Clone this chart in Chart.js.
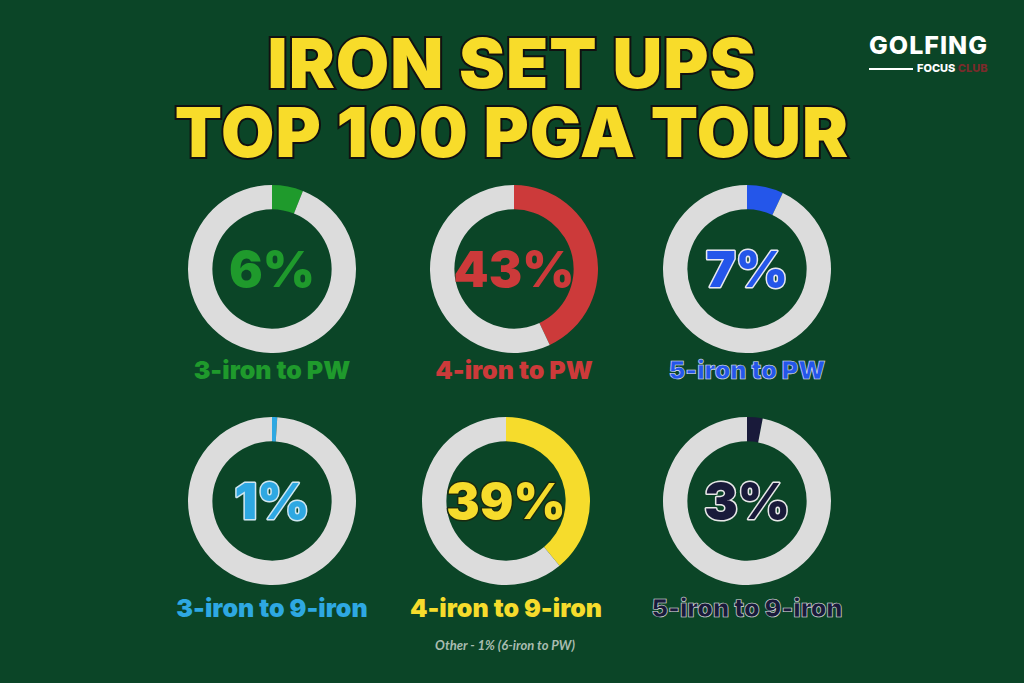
<!DOCTYPE html>
<html>
<head>
<meta charset="utf-8">
<script src="https://cdn.jsdelivr.net/npm/chart.js@4"></script>
<style>
  html, body { margin: 0; padding: 0; }
  body { width: 1024px; height: 683px; background: #0b4527; position: relative; overflow: hidden; font-family: Inter, Roboto, 'DejaVu Sans', sans-serif; }
  .title { position: absolute; left: 0; width: 1024px; text-align: center; color: #f8dc2a; font-weight: 900; font-size: 69px; line-height: 1; -webkit-text-stroke: 4px #111; paint-order: stroke fill; letter-spacing: 1px; }
  .cell { position: absolute; width: 168px; height: 168px; }
  .label { position: absolute; width: 300px; text-align: center; font-weight: 900; font-size: 25px; line-height: 1; }
  .note { position: absolute; left: 405px; width: 200px; top: 637px; text-align: center; font-family: Lato, 'Open Sans', sans-serif; font-style: italic; font-weight: 700; font-size: 13px; color: #a9bcb0; }
  .logo { position: absolute; left: 869px; top: 30px; color: #fff; font-weight: 800; }
</style>
</head>
<body>
<div class="title" style="top:29px">IRON SET UPS</div>
<div class="title" style="top:98px">TOP 100 PGA TOUR</div>
<div class="logo">
  <div style="font-size:25px;letter-spacing:1px">GOLFING</div>
  <div style="font-size:11px;margin-top:1px;"><span style="display:inline-block;width:44px;border-top:2px solid #fff;vertical-align:middle;margin-right:4px"></span>FOCUS <span style="color:#7a2b2b">CLUB</span></div>
</div>
<div id="charts"></div>
<div class="note">Other - 1% (6-iron to PW)</div>

<script>
// setups and their share of the top 100 (%)
const categories = ['3-iron to PW', '4-iron to PW', '5-iron to PW', '3-iron to 9-iron', '4-iron to 9-iron', '5-iron to 9-iron'];
const shares = [6, 43, 7, 1, 39, 3];
const colours = ['#1f9a2c', '#cc3a3a', '#2456ea', '#2ea8e2', '#f6dc2c', '#191a3a'];
const outlines = [null, null, '#e8e8f0', '#cfe6f0', '#1a2a10', '#e8e8e8'];

const centres = [[272, 269], [514, 269], [747, 269], [272, 501], [506, 501], [747, 501]];
const labelY = [358, 358, 358, 596, 596, 596];

const centreText = {
  id: 'centreText',
  afterDraw(chart) {
    const c = chart.ctx;
    const a = chart.getDatasetMeta(0).data[0];
    const i = chart.options.plugins.centreText.idx;
    const txt = shares[i] + '%';
    c.save();
    c.font = '900 50px Inter, Roboto, "DejaVu Sans", sans-serif';
    c.textAlign = 'center';
    c.textBaseline = 'middle';
    if (outlines[i]) {
      c.lineWidth = 3;
      c.strokeStyle = outlines[i];
      c.lineJoin = 'round';
      c.strokeText(txt, a.x, a.y + 3);
    }
    c.fillStyle = colours[i];
    c.fillText(txt, a.x, a.y + 3);
    c.restore();
  }
};

const holder = document.getElementById('charts');
categories.forEach((cat, i) => {
  const div = document.createElement('div');
  div.className = 'cell';
  div.style.left = (centres[i][0] - 84) + 'px';
  div.style.top = (centres[i][1] - 84) + 'px';
  const cv = document.createElement('canvas');
  div.appendChild(cv);
  holder.appendChild(div);

  const lab = document.createElement('div');
  lab.className = 'label';
  lab.textContent = cat;
  lab.style.left = (centres[i][0] - 150) + 'px';
  lab.style.top = labelY[i] + 'px';
  lab.style.color = colours[i];
  if (outlines[i] && i !== 4 && i !== 3) {
    lab.style.webkitTextStroke = '0.6px ' + outlines[i];
  }
  document.body.appendChild(lab);

  new Chart(cv, {
    type: 'doughnut',
    data: {
      labels: [cat, 'Rest'],
      datasets: [{
        data: [shares[i], 100 - shares[i]],
        backgroundColor: [colours[i], '#dcdcdc'],
        borderWidth: 0
      }]
    },
    options: {
      responsive: true,
      maintainAspectRatio: false,
      animation: false,
      cutout: '71%',
      layout: { padding: 0 },
      plugins: {
        legend: { display: false },
        tooltip: { enabled: false },
        centreText: { idx: i }
      }
    },
    plugins: [centreText]
  });
});
</script>
</body>
</html>
